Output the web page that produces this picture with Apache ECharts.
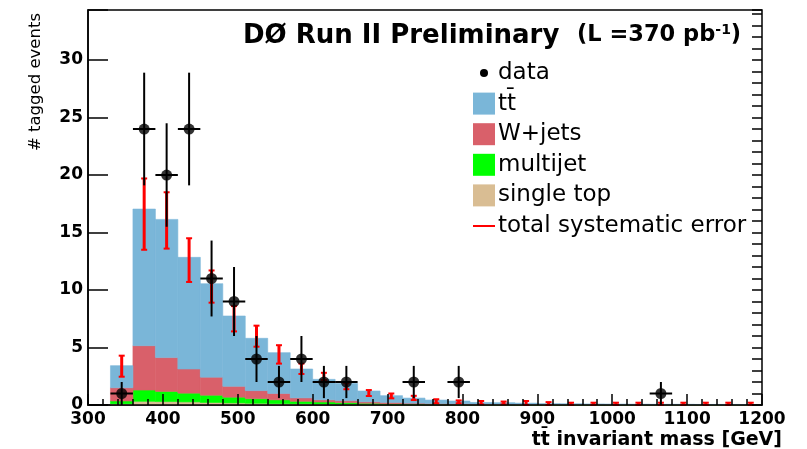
<!DOCTYPE html>
<html>
<head>
<meta charset="utf-8">
<script src="https://cdn.jsdelivr.net/npm/echarts@6/dist/echarts.min.js"></script>
<style>
  html, body { margin: 0; padding: 0; background: #fff; }
  #main { width: 807px; height: 449px; }
</style>
</head>
<body>
<div id="main"></div>
<script>
// bin centres of the 30 GeV mass bins (GeV)
const binCenters = [345, 375, 405, 435, 465, 495, 525, 555, 585, 615, 645, 675, 705, 735, 765,
  795, 825, 855, 885, 915, 945, 975, 1005, 1035, 1065, 1095, 1125, 1155, 1185]
const binHalf = 15

// expected events per bin, stacked bottom -> top
const singleTop = [0.10, 0.32, 0.30, 0.27, 0.22, 0.18, 0.15, 0.12, 0.10, 0.08, 0.06, 0.05, 0.04, 0.03, 0.03,
  0.02, 0.02, 0.01, 0.01, 0.01, 0.01, 0.01, 0.01, 0.01, 0.01, 0.01, 0.01, 0.01, 0.01]
const multijet = [0.25, 0.98, 0.88, 0.76, 0.63, 0.50, 0.40, 0.33, 0.22, 0.18, 0.14, 0.10, 0.06, 0.05, 0.03,
  0.03, 0.02, 0.02, 0.01, 0.01, 0.01, 0.01, 0.01, 0.01, 0, 0, 0, 0, 0]
const wJets = [1.15, 3.86, 2.94, 2.10, 1.57, 0.94, 0.70, 0.55, 0.30, 0.19, 0.18, 0.13, 0.12, 0.08, 0.06,
  0.05, 0.04, 0.03, 0.03, 0.02, 0.02, 0.02, 0.01, 0.01, 0.01, 0.01, 0.01, 0.01, 0.01]
const ttbar = [1.92, 11.88, 12.02, 9.71, 8.13, 6.12, 4.55, 3.55, 2.51, 1.78, 1.50, 0.94, 0.59, 0.44, 0.31,
  0.25, 0.14, 0.14, 0.11, 0.08, 0.07, 0.05, 0.05, 0.04, 0.04, 0.04, 0.03, 0.03, 0.02]

// total systematic error band (low / high edge)
const systLow = [2.46, 13.5, 13.6, 10.7, 8.9, 6.4, 5.07, 3.6, 2.7, 2.17, 1.37, 0.78, 0.58, 0.43, 0.15,
  0.15, 0.05, 0.05, 0, 0, 0, 0, 0, 0, 0, 0, 0, 0, 0]
const systHigh = [4.29, 19.7, 18.5, 14.5, 11.7, 8.6, 6.9, 5.2, 3.6, 2.8, 1.9, 1.3, 1.0, 0.8, 0.5,
  0.4, 0.35, 0.3, 0.35, 0.25, 0.2, 0.2, 0.2, 0.2, 0.2, 0.2, 0.2, 0.2, 0.2]

// observed data
const dataMass = [345, 375, 405, 435, 465, 495, 525, 555, 585, 615, 645, 735, 795, 1065]
const dataEvents = [1, 24, 20, 24, 11, 9, 4, 2, 4, 2, 2, 2, 2, 1]
const dataErr = [1, 4.9, 4.5, 4.9, 3.3, 3, 2, 1.4, 2, 1.4, 1.4, 1.4, 1.4, 1]

const FONT = 'DejaVu Sans'
const BLACK = '#000'

// stack components, bottom first
const stack = [
  { name: 'single top', color: '#d9bd93', values: singleTop },
  { name: 'multijet', color: '#00ff00', values: multijet },
  { name: 'W+jets', color: '#d9606a', values: wJets },
  { name: 'tt\u0304', color: '#7ab6d8', values: ttbar }
]

const base = binCenters.map(() => 0)
const histSeries = stack.map((comp) => {
  const rows = binCenters.map((c, i) => {
    const lo = base[i]
    base[i] += comp.values[i]
    return [c - binHalf, c + binHalf, lo, base[i]]
  })
  return {
    name: comp.name,
    type: 'custom',
    xAxisIndex: 0,
    yAxisIndex: 0,
    data: rows,
    encode: { x: [0, 1], y: [2, 3] },
    renderItem: (params, api) => {
      const p0 = api.coord([api.value(0), api.value(2)])
      const p1 = api.coord([api.value(1), api.value(3)])
      return {
        type: 'rect',
        shape: { x: p0[0], y: p1[1], width: p1[0] - p0[0], height: p0[1] - p1[1] },
        style: { fill: comp.color, stroke: comp.color, lineWidth: 0.6 }
      }
    },
    z: 2
  }
})

// red systematic error bars with small caps
const systSeries = {
  name: 'total systematic error',
  type: 'custom',
  data: binCenters.map((c, i) => [c, systLow[i], systHigh[i]]),
  encode: { x: 0, y: [1, 2] },
  renderItem: (params, api) => {
    const lo = api.coord([api.value(0), api.value(1)])
    const hi = api.coord([api.value(0), api.value(2)])
    const cap = { stroke: '#ff0000', lineWidth: 2 }
    return {
      type: 'group',
      children: [
        { type: 'line', shape: { x1: lo[0], y1: lo[1], x2: hi[0], y2: hi[1] }, style: { stroke: '#ff0000', lineWidth: 3 } },
        { type: 'line', shape: { x1: lo[0] - 3, y1: lo[1], x2: lo[0] + 3, y2: lo[1] }, style: cap },
        { type: 'line', shape: { x1: hi[0] - 3, y1: hi[1], x2: hi[0] + 3, y2: hi[1] }, style: cap }
      ]
    }
  },
  z: 4
}

// black data error crosses
const dataErrSeries = {
  name: 'data err',
  type: 'custom',
  data: dataMass.map((m, i) => [m, dataEvents[i], dataErr[i]]),
  encode: { x: 0, y: 1 },
  renderItem: (params, api) => {
    const m = api.value(0), n = api.value(1), e = api.value(2)
    const top = api.coord([m, n + e])
    const bot = api.coord([m, n - e])
    const left = api.coord([m - binHalf, n])
    const right = api.coord([m + binHalf, n])
    const st = { stroke: BLACK, lineWidth: 2 }
    return {
      type: 'group',
      children: [
        { type: 'line', shape: { x1: top[0], y1: top[1], x2: bot[0], y2: bot[1] }, style: st },
        { type: 'line', shape: { x1: left[0], y1: left[1], x2: right[0], y2: right[1] }, style: st }
      ]
    }
  },
  z: 5
}

const dataSeries = {
  name: 'data',
  type: 'scatter',
  data: dataMass.map((m, i) => [m, dataEvents[i]]),
  symbol: 'circle',
  symbolSize: 11,
  itemStyle: { color: BLACK },
  z: 6
}

// legend drawn as plain graphics (ROOT style)
const legendRows = [
  { label: 'data', kind: 'dot' },
  { label: 'tt\u0304', kind: 'box', color: '#7ab6d8' },
  { label: 'W+jets', kind: 'box', color: '#d9606a' },
  { label: 'multijet', kind: 'box', color: '#00ff00' },
  { label: 'single top', kind: 'box', color: '#d9bd93' },
  { label: 'total systematic error', kind: 'line', color: '#ff0000' }
]
const legendGraphics = []
legendRows.forEach((row, i) => {
  const cy = 73 + i * 30.6
  if (row.kind === 'dot') {
    legendGraphics.push({ type: 'circle', shape: { cx: 484, cy: cy, r: 4 }, style: { fill: BLACK } })
  } else if (row.kind === 'box') {
    legendGraphics.push({ type: 'rect', shape: { x: 473, y: cy - 11, width: 22, height: 22 }, style: { fill: row.color } })
  } else {
    legendGraphics.push({ type: 'line', shape: { x1: 473, y1: cy, x2: 495, y2: cy }, style: { stroke: row.color, lineWidth: 2 } })
  }
  legendGraphics.push({
    type: 'text', x: 498, y: cy,
    style: { text: row.label, font: '23px "' + FONT + '"', fill: BLACK, verticalAlign: 'middle' }
  })
})

const chart = echarts.init(document.getElementById('main'))

const option = {
  animation: false,
  backgroundColor: '#fff',
  grid: {
    left: 88, right: 45, top: 10, bottom: 44,
    show: true, borderColor: BLACK, borderWidth: 1.5, backgroundColor: 'transparent'
  },
  xAxis: {
    type: 'value',
    min: 300, max: 1200, interval: 100,
    z: 10,
    axisLine: { lineStyle: { color: BLACK, width: 1.5 } },
    axisTick: { inside: true, length: 11, lineStyle: { color: BLACK, width: 1.5 } },
    minorTick: { show: true, splitNumber: 5, length: 6, lineStyle: { color: BLACK, width: 1.5 } },
    axisLabel: {
      margin: 6, color: BLACK, fontFamily: FONT, fontWeight: 'bold', fontSize: 17,
      formatter: (v) => String(v)
    },
    splitLine: { show: false }
  },
  yAxis: [
    {
      type: 'value',
      min: 0, max: 34.35, interval: 5,
      z: 10,
      axisLine: { show: true, lineStyle: { color: BLACK, width: 1.5 } },
      axisTick: { show: true, inside: true, length: 20, lineStyle: { color: BLACK, width: 1.5 } },
      axisLabel: {
        margin: 5, color: BLACK, fontFamily: FONT, fontWeight: 'bold', fontSize: 17,
        formatter: (v) => (v % 5 === 0 ? String(v) : '')
      },
      splitLine: { show: false }
    },
    {
      type: 'value',
      min: 0, max: 34.35, interval: 1,
      z: 10,
      axisLine: { show: false },
      axisTick: { show: true, inside: true, length: 10, lineStyle: { color: BLACK, width: 1.5 } },
      axisLabel: { show: false },
      splitLine: { show: false }
    }
  ],
  series: [...histSeries, systSeries, dataErrSeries, dataSeries],
  graphic: [
    {
      type: 'text', x: 243, y: 36,
      style: { text: 'DØ Run II Preliminary', font: 'bold 26px "' + FONT + '"', fill: BLACK, verticalAlign: 'middle' }
    },
    {
      type: 'text', x: 577, y: 35,
      style: {
        text: '{a|(L =370 pb}{s|-1}{a|)}',
        fill: BLACK,
        verticalAlign: 'middle',
        rich: {
          a: { font: 'bold 22.5px "' + FONT + '"', fill: BLACK, verticalAlign: 'bottom' },
          s: { font: 'bold 14px "' + FONT + '"', fill: BLACK, verticalAlign: 'top' }
        }
      }
    },
    {
      type: 'text', x: 36, y: 13, rotation: Math.PI / 2,
      style: { text: '# tagged events', font: '16.5px "' + FONT + '"', fill: BLACK, align: 'right', verticalAlign: 'middle' }
    },
    {
      type: 'text', x: 782, y: 440,
      style: { text: 'tt\u0304 invariant mass [GeV]', font: 'bold 19px "' + FONT + '"', fill: BLACK, align: 'right', verticalAlign: 'middle' }
    },
    ...legendGraphics
  ]
}

chart.setOption(option)
</script>
</body>
</html>
